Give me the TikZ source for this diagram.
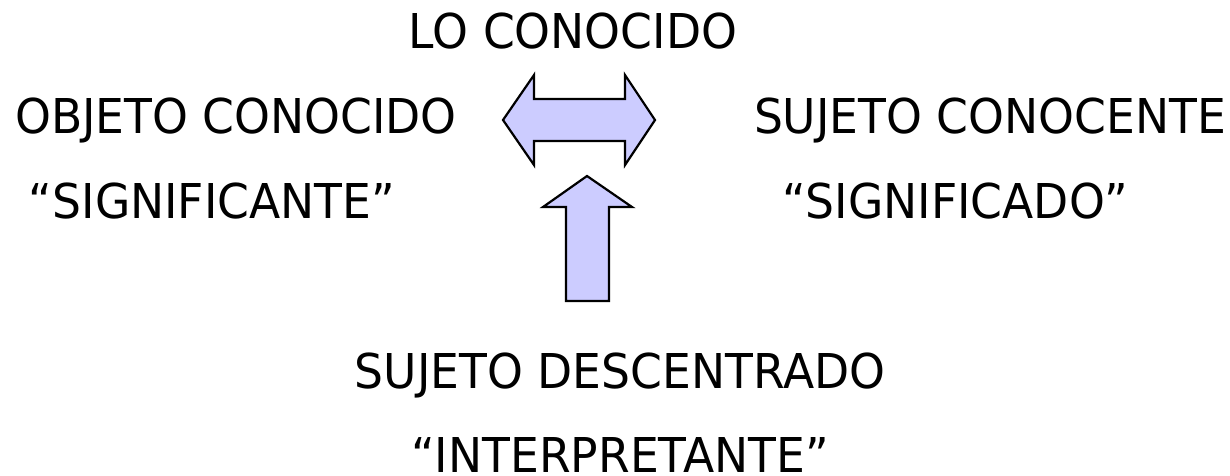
\documentclass[tikz,border=0pt]{standalone}
\usepackage{fontspec}
\setmainfont{DejaVu Sans}[FakeStretch=0.95]
\definecolor{lila}{RGB}{204,204,255}
\begin{document}
\begin{tikzpicture}[x=1pt,y=-1pt,
		texto/.style={anchor=base,inner sep=0pt,font=\fontsize{48}{56}\selectfont},
		flecha/.style={fill=lila,draw=black,line width=2.2pt,line join=miter}]
			\useasboundingbox (0,0) rectangle (1230,475);
			\node[texto] (LC) at (573,48) {LO CONOCIDO};
			\node[texto] (OC) at (236,133) {OBJETO CONOCIDO};
			\node[texto] (SC) at (990,133) {SUJETO CONOCENTE};
			\node[texto] (Ste) at (212,218) {“SIGNIFICANTE”};
			\node[texto] (Sdo) at (955,218) {“SIGNIFICADO”};
			\node[texto] (SD) at (620,388) {SUJETO DESCENTRADO};
			\node[texto] (I) at (620,472) {“INTERPRETANTE”};
			% flecha doble
			\draw[flecha] (503,120)--(534,75)--(534,99)--(625,99)--(625,75)--(655,120)
				--(625,165)--(625,141)--(534,141)--(534,165)--cycle;
			% flecha hacia arriba
			\draw[flecha] (587,176)--(632,207)--(609,207)--(609,301)--(566,301)
				--(566,207)--(543,207)--cycle;
		\end{tikzpicture}
\end{document}
